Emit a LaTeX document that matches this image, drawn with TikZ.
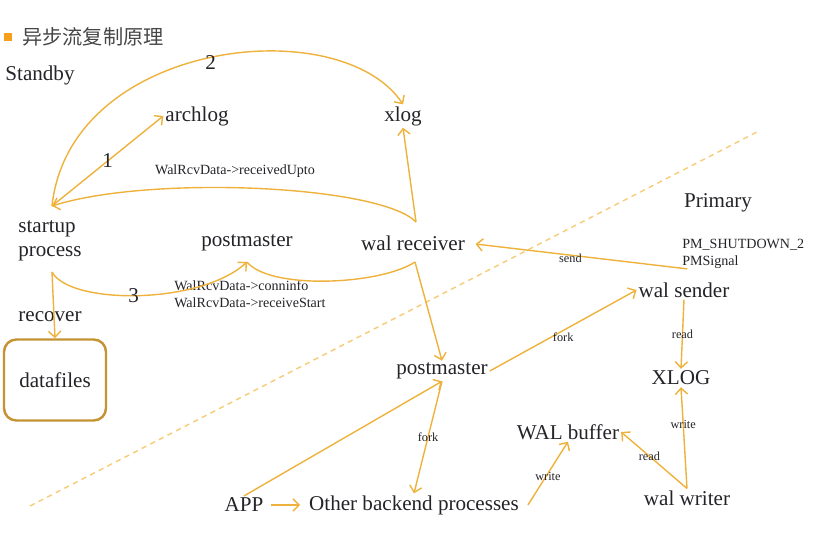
\documentclass[tikz,border=0pt]{standalone}
\usepackage{fontspec}
\setmainfont{Liberation Serif}
\newfontfamily\cjk{Noto Sans CJK SC}
\usepackage{tikz}
\usetikzlibrary{arrows.meta, positioning}
\usepackage{xcolor}
\definecolor{walgold}{RGB}{238, 178, 60}
\definecolor{boxgold}{RGB}{196, 148, 52}
\definecolor{dashgold}{RGB}{246, 204, 120}
\definecolor{inkgray}{RGB}{35, 35, 40}
\definecolor{titlegray}{RGB}{70, 70, 70}
\definecolor{bulletorange}{RGB}{247, 160, 30}
\tikzset{
    procnode/.style={font=\fontsize{12}{14}\selectfont, text=inkgray, inner sep=1pt, align=left},
    smallnote/.style={font=\fontsize{8}{9.5}\selectfont, text=inkgray, inner sep=0pt, align=left},
    tinynote/.style={font=\fontsize{7}{8}\selectfont, text=inkgray, inner sep=0pt},
    stepnum/.style={font=\fontsize{12}{14}\selectfont, text=inkgray, inner sep=0pt},
    flowarrow/.style={-{Straight Barb[length=3.5pt, width=7pt]}, draw=walgold, line width=0.8pt},
    flowline/.style={draw=walgold, line width=0.8pt},
    filebox/.style={rectangle, rounded corners=7pt, draw=boxgold, line width=1.4pt, minimum width=2.04cm, minimum height=1.62cm, font=\fontsize{12}{14}\selectfont, text=inkgray}
}

\begin{document}
\begin{tikzpicture}[x=0.02cm, y=-0.02cm]
    \useasboundingbox (0,0) rectangle (815,534);

    % title
    \fill[bulletorange] (4,33) rectangle (12,41);
    \node[anchor=west, font=\cjk\fontsize{11.5}{14}\selectfont, text=titlegray, inner sep=0pt] (title) at (22,37) {异步流复制原理};

    % standby / primary border
    \draw[dashgold, line width=0.8pt, dash pattern=on 3pt off 2.5pt] (30,506) -- (757,132);

    \node[procnode] (standby) at (40,75) {Standby};
    \node[procnode] (archlog) at (197,116) {archlog};
    \node[procnode] (xlog) at (403,116) {xlog};
    \node[procnode] (startup) at (50,241) {startup\\process};
    \node[procnode] (pmtop) at (247,243) {postmaster};
    \node[procnode] (walrecv) at (413,243) {wal receiver};
    \node[procnode] (recover) at (50,317) {recover};
    \node[filebox] (datafiles) at (55,380) {datafiles};
    \node[smallnote] (upto) at (235,171) {WalRcvData->receivedUpto};
    \node[smallnote, anchor=west] (conninfo) at (174,294) {WalRcvData->conninfo\\WalRcvData->receiveStart};

    \node[procnode] (primary) at (718,203) {Primary};
    \node[smallnote, anchor=west] (pmsig) at (682,254) {PM\_SHUTDOWN\_2\\PMSignal};
    \node[procnode] (walsend) at (684,290) {wal sender};
    \node[procnode] (pmbot) at (442,371) {postmaster};
    \node[procnode] (xlogbig) at (681,378) {XLOG};
    \node[procnode] (walbuf) at (568,432) {WAL buffer};
    \node[procnode] (app) at (244,505) {APP};
    \node[procnode] (backend) at (414,505) {Other backend processes};
    \node[procnode] (walwriter) at (687,498) {wal writer};

    \coordinate (stTop) at (52,206);
    \coordinate (stBot) at (52,272);
    \coordinate (wrTop) at (416,222);
    \coordinate (wrBot) at (415,262);
    \coordinate (pmDip) at (247,262);

    % standby side
    \draw[flowarrow] (stTop) -- node[stepnum] {1} (archlog.west);
    \draw[flowarrow] (stTop) .. controls (70,40) and (340,10) .. node[stepnum, pos=0.5, yshift=-3pt] {2} (xlog.north);
    \draw[flowarrow] (wrTop) .. controls (380,185) and (150,175) .. (stTop);
    \draw[flowarrow] (wrTop) -- (xlog.south);
    \draw[flowarrow] (stBot) .. controls (70,305) and (200,305) .. node[stepnum, pos=0.48] {3} (pmDip);
    \draw[flowline] (pmDip) .. controls (270,290) and (380,285) .. (wrBot);
    \draw[flowarrow] (wrBot) -- (pmbot.north);
    \draw[flowarrow] (stBot) -- (datafiles.north);

    % primary side
    \draw[flowarrow, shorten >=5pt] ([xshift=3pt]pmsig.south west) -- node[tinynote, pos=0.53, below=-1pt] {send} (walrecv.east);
    \draw[flowarrow] (pmbot.east) -- node[tinynote, pos=0.5, below=1pt] {fork} (walsend.west);
    \draw[flowarrow] (walsend.south) -- node[tinynote] {read} (xlogbig.north);
    \draw[flowarrow] (app.north) -- (pmbot.south);
    \draw[flowarrow] (pmbot.south) -- node[tinynote] {fork} (backend.north);
    \draw[flowarrow, shorten <=3pt, shorten >=4pt] (app.east) -- (backend.west);
    \draw[flowarrow] ([xshift=4pt]backend.east) -- node[tinynote, yshift=-2pt] {write} (walbuf.south);
    \draw[flowarrow] (walwriter.north) -- node[tinynote, pos=0.63] {write} (xlogbig.south);
    \draw[flowarrow] (walwriter.north) -- node[tinynote, pos=0.57] {read} (walbuf.east);
\end{tikzpicture}
\end{document}
